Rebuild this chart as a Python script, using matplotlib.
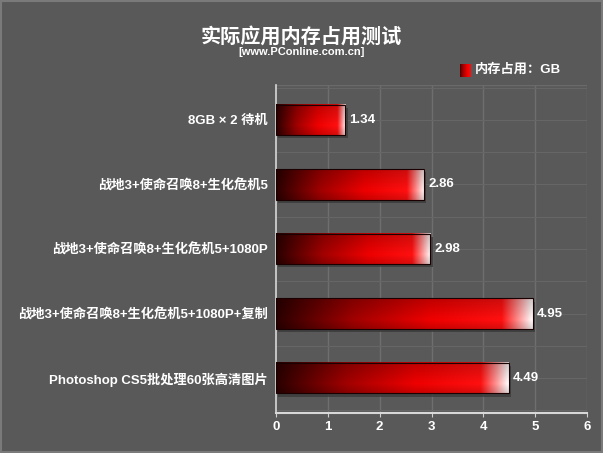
import numpy as np
import matplotlib.pyplot as plt
from matplotlib.colors import LinearSegmentedColormap
from matplotlib.patches import Rectangle

plt.rcParams['font.family'] = ['Liberation Sans', 'Noto Sans CJK SC', 'DejaVu Sans']

# Data
categories = ['8GB × 2 待机',
              '战地3+使命召唤8+生化危机5',
              '战地3+使命召唤8+生化危机5+1080P',
              '战地3+使命召唤8+生化危机5+1080P+复制',
              'Photoshop CS5批处理60张高清图片']
values = [1.34, 2.86, 2.98, 4.95, 4.49]
x_ticks = [0, 1, 2, 3, 4, 5, 6]

bg = '#595959'
fig = plt.figure(figsize=(6.03, 4.53), dpi=100, facecolor=bg)
ax = fig.add_axes([0.4577, 0.0883, 0.5158, 0.7241])
ax.set_facecolor(bg)

# gradient: dark -> red -> white at the end
cmap = LinearSegmentedColormap.from_list('bar', [
    (0.0, '#2a0000'), (0.3, '#a00000'), (0.6, '#ee0000'),
    (0.88, '#ff1010'), (0.95, '#ff9a9a'), (1.0, '#ffffff')])
grad = np.linspace(0, 1, 256).reshape(1, -1)
# vertical shading
vshade = np.concatenate([np.linspace(0.85, 1.0, 10), np.linspace(1.0, 0.8, 22)]).reshape(-1, 1)

n = len(categories)
ys = np.arange(n)[::-1]
h = 0.47

for y, v in zip(ys, values):
    # shadow
    ax.add_patch(Rectangle((0.04, y - h / 2 - 0.05), v, h, color='#3a3a3a', alpha=0.8, zorder=2, lw=0))
    rgba = cmap(grad)
    img = rgba * np.ones((len(vshade), 1, 1))
    img[..., :3] = img[..., :3] * vshade[..., None]
    ax.imshow(img, extent=[0, v, y + h / 2, y - h / 2], aspect='auto', zorder=3,
              interpolation='bilinear')
    ax.add_patch(Rectangle((0, y - h / 2), v, h, fill=False, ec='#1a0000', lw=0.8, zorder=4))
    ax.text(v + 0.08, y, f'{v:.2f}', color='white', fontsize=9.5, fontweight='bold',
            va='center', ha='left', zorder=5)

ax.set_xlim(0, 6)
ax.set_ylim(-0.54, n - 1 + 0.54)
ax.set_xticks(x_ticks)
ax.set_xticklabels([str(t) for t in x_ticks], color='white', fontsize=9.5, fontweight='bold')
ax.set_yticks(ys)
ax.set_yticklabels(categories, color='white', fontsize=9.5, fontweight='bold')
ax.tick_params(axis='y', length=0, pad=6)
ax.tick_params(axis='x', length=3, color='#d0d0d0', pad=3)

# grid lines
for xt in x_ticks[1:]:
    ax.axvline(xt, color='#6e6e6e', lw=1, zorder=1)
for yy in np.arange(-0.5, n, 0.5):
    ax.axhline(yy, color='#666666', lw=0.8, zorder=1)

for s in ['top', 'right']:
    ax.spines[s].set_visible(False)
ax.spines['left'].set_color('#d8d8d8')
ax.spines['bottom'].set_color('#d8d8d8')
ax.spines['left'].set_linewidth(1.2)
ax.spines['bottom'].set_linewidth(1.5)
ax.axhline(n - 1 + 0.54, color='#6a6a6a', lw=1, zorder=1)

# title and subtitle
fig.text(0.5, 0.918, '实际应用内存占用测试', color='white', fontsize=14.5,
         fontweight='bold', ha='center', va='center')
fig.text(0.5, 0.885, '[www.PConline.com.cn]', color='white', fontsize=8,
         fontweight='bold', ha='center', va='center')

# legend
lax = fig.add_axes([460 / 603, 1 - 77 / 453, 11 / 603, 13 / 453])
lax.imshow(cmap(np.linspace(0.1, 0.85, 32).reshape(1, -1)), aspect='auto')
lax.axis('off')
fig.text(475 / 603, 1 - 70 / 453, '内存占用：GB', color='white', fontsize=9.5,
         fontweight='bold', ha='left', va='center')

# border
fig.add_artist(Rectangle((0.002, 0.002), 0.996, 0.996, transform=fig.transFigure,
                         fill=False, ec='#7a7a7a', lw=1.5))

fig.savefig('out.png', dpi=100, facecolor=bg)
